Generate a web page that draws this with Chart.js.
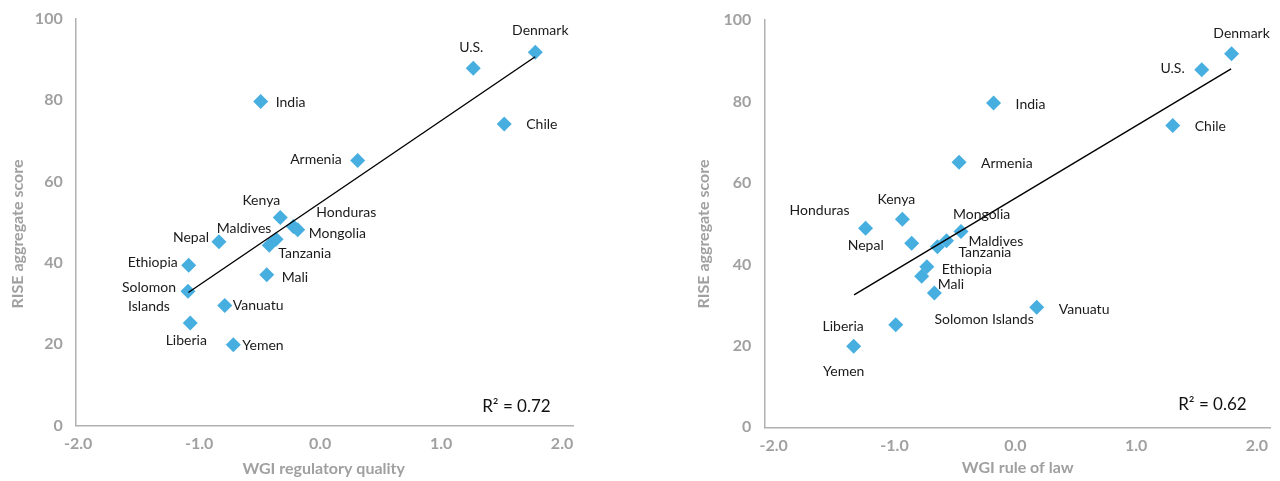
<!DOCTYPE html>
<html><head><meta charset="utf-8">
<script src="https://cdn.jsdelivr.net/npm/chart.js@4"></script>
<style>
html,body{margin:0;padding:0;background:#fff;}
#wrap{position:relative;width:1280px;height:481px;overflow:hidden;}
canvas{position:absolute;top:0;}
</style></head><body>
<div id="wrap">
<canvas id="c1" width="640" height="481" style="left:0;width:640px;height:481px"></canvas>
<canvas id="c2" width="640" height="481" style="left:640px;width:640px;height:481px"></canvas>
</div>
<script>
// ---- data ----
const countries = ['India','Kenya','Nepal','Ethiopia','Solomon Islands','Liberia','Vanuatu','Yemen','Mali','Tanzania','Maldives','Honduras','Mongolia','Armenia','U.S.','Denmark','Chile'];
const riseScore = [79.6, 51.1, 45.2, 39.4, 33.0, 25.2, 29.5, 19.9, 37.1, 44.3, 45.8, 48.9, 48.1, 65.1, 87.8, 91.7, 74.1];
const wgiRegulatoryQuality = [-0.491, -0.329, -0.836, -1.086, -1.092, -1.073, -0.788, -0.717, -0.441, -0.420, -0.364, -0.221, -0.185, 0.311, 1.266, 1.779, 1.522];
const wgiRuleOfLaw = [-0.18, -0.935, -0.858, -0.733, -0.67, -0.99, 0.177, -1.338, -0.775, -0.645, -0.57, -1.24, -0.45, -0.466, 1.543, 1.79, 1.303];
const trendRegQualityX = [-1.089, 1.778];
const trendRegQualityY = [32.7, 90.6];
const trendRuleOfLawX = [-1.335, 1.786];
const trendRuleOfLawY = [32.5, 88.0];
const xTickValues = [-2, -1, 0, 1, 2];
const yTickValues = [0, 20, 40, 60, 80, 100];
const r2RegQuality = 'R\u00B2 = 0.72';
const r2RuleOfLaw = 'R\u00B2 = 0.62';
const xTitleLeft = 'WGI regulatory quality';
const xTitleRight = 'WGI rule of law';
const yTitle = 'RISE aggregate score';

// ---- label placement (style: align, dx, dy, optional multi-line text) ----
const labelPosLeft = [
  ['left',15,1],['center',-19,-17],['right',-10,-4],['right',-11,-3],['center',-39,-4,['Solomon','Islands']],
  ['center',-4,17],['left',8,0],['left',9,1],['left',15,3],['left',9,8],['center',-32,-11],
  ['left',23,-14],['left',11,4],['right',-16,-1],['center',-2,-21],['center',5,-22],['left',22,1]
];
const labelPosRight = [
  ['left',22,1],['center',-6,-20],['right',-28,2],['left',15,2.5],['left',0,27],
  ['right',-32,2],['left',22,2],['center',-10,25],['left',16,8],['left',21,6],['left',22,1],
  ['center',-46,-18],['left',-8,-17],['left',22,1],['right',-17,-1],['center',10,-20],['left',22,1]
];

const FONT = 'Lato, "Liberation Sans", sans-serif';
const GRAY = '#a0a0a0';
const AXIS = '#b0b0b0';
const BLUE = '#47aee0';

function makeChart(canvasId, xs, tx, ty, xmin, xmax, pos, r2, xTitle, geo) {
  const labelPlugin = {
    id: 'lbl',
    afterDatasetsDraw(chart) {
      const ctx = chart.ctx;
      const meta = chart.getDatasetMeta(1);
      ctx.save();
      ctx.font = '14px ' + FONT;
      ctx.fillStyle = '#1a1a1a';
      ctx.textBaseline = 'middle';
      meta.data.forEach((pt, i) => {
        const p = pos[i];
        ctx.textAlign = p[0];
        const lines = p[3] || [countries[i]];
        lines.forEach((ln, k) => ctx.fillText(ln, pt.x + p[1], pt.y + p[2] + k * 19));
      });
      // R squared
      const ca = chart.chartArea;
      ctx.font = '17px ' + FONT;
      ctx.fillStyle = '#111';
      ctx.textAlign = 'right';
      ctx.fillText(r2, ca.right + geo.r2dx, ca.bottom + geo.r2dy);
      // axis titles
      ctx.font = 'bold 16px ' + FONT;
      ctx.fillStyle = GRAY;
      ctx.textAlign = 'center';
      ctx.fillText(xTitle, geo.xtx, geo.xty);
      ctx.save();
      ctx.translate(geo.ytx, geo.yty);
      ctx.rotate(-Math.PI / 2);
      ctx.fillText(yTitle, 0, 0);
      ctx.restore();
      ctx.restore();
    }
  };
  return new Chart(document.getElementById(canvasId), {
    type: 'scatter',
    data: {
      datasets: [
        {
          data: tx.map((x, i) => ({x, y: ty[i]})),
          showLine: true, borderColor: '#000', borderWidth: 1.4,
          pointRadius: 0, fill: false
        },
        {
          data: xs.map((x, i) => ({x, y: riseScore[i]})),
          pointStyle: 'rectRot', pointRadius: 7.5, pointHoverRadius: 7.5,
          backgroundColor: BLUE, borderWidth: 0
        }
      ]
    },
    options: {
      responsive: false, animation: false, devicePixelRatio: 1,
      layout: { padding: { left: geo.padL, right: geo.padR, top: geo.padT, bottom: 0 } },
      plugins: { legend: { display: false }, tooltip: { enabled: false } },
      scales: {
        x: {
          type: 'linear', min: xmin, max: xmax,
          afterBuildTicks: s => { s.ticks = xTickValues.map(v => ({value: v})); },
          afterFit: s => { s.height = geo.xh; s.paddingLeft = 0; s.paddingRight = 0; s.paddingTop = 0; s.paddingBottom = 0; },
          grid: { display: false, drawTicks: false },
          border: { display: true, color: AXIS, width: 1.5 },
          ticks: { padding: 9, color: GRAY, font: { family: FONT, size: 16, weight: 'bold' },
            maxRotation: 0, callback: v => v.toFixed(1) }
        },
        y: {
          type: 'linear', min: 0, max: 100,
          afterBuildTicks: s => { s.ticks = yTickValues.map(v => ({value: v})); },
          afterFit: s => { s.width = geo.yw; s.paddingLeft = 0; s.paddingRight = 0; s.paddingTop = 0; s.paddingBottom = 0; },
          grid: { display: false, drawTicks: false },
          border: { display: true, color: AXIS, width: 1.5 },
          ticks: { padding: 13, color: GRAY, font: { family: FONT, size: 16, weight: 'bold' } }
        }
      }
    },
    plugins: [labelPlugin]
  });
}

makeChart('c1', wgiRegulatoryQuality, trendRegQualityX, trendRegQualityY, -2.02, 2.093, labelPosLeft, r2RegQuality, xTitleLeft,
  { padL: 0, padR: 66.7, padT: 18.5, yw: 75.7, xh: 55.3, r2dx: -22.6, r2dy: -19, xtx: 323.7, xty: 469.3, ytx: 18, yty: 234 });
makeChart('c2', wgiRuleOfLaw, trendRuleOfLawX, trendRuleOfLawY, -2.078, 2.108, labelPosRight, r2RuleOfLaw, xTitleRight,
  { padL: 0, padR: 10, padT: 20, yw: 124.3, xh: 53.7, r2dx: -23.3, r2dy: -22.3, xtx: 377.7, xty: 468.3, ytx: 64, yty: 234 });
</script>
</body></html>
